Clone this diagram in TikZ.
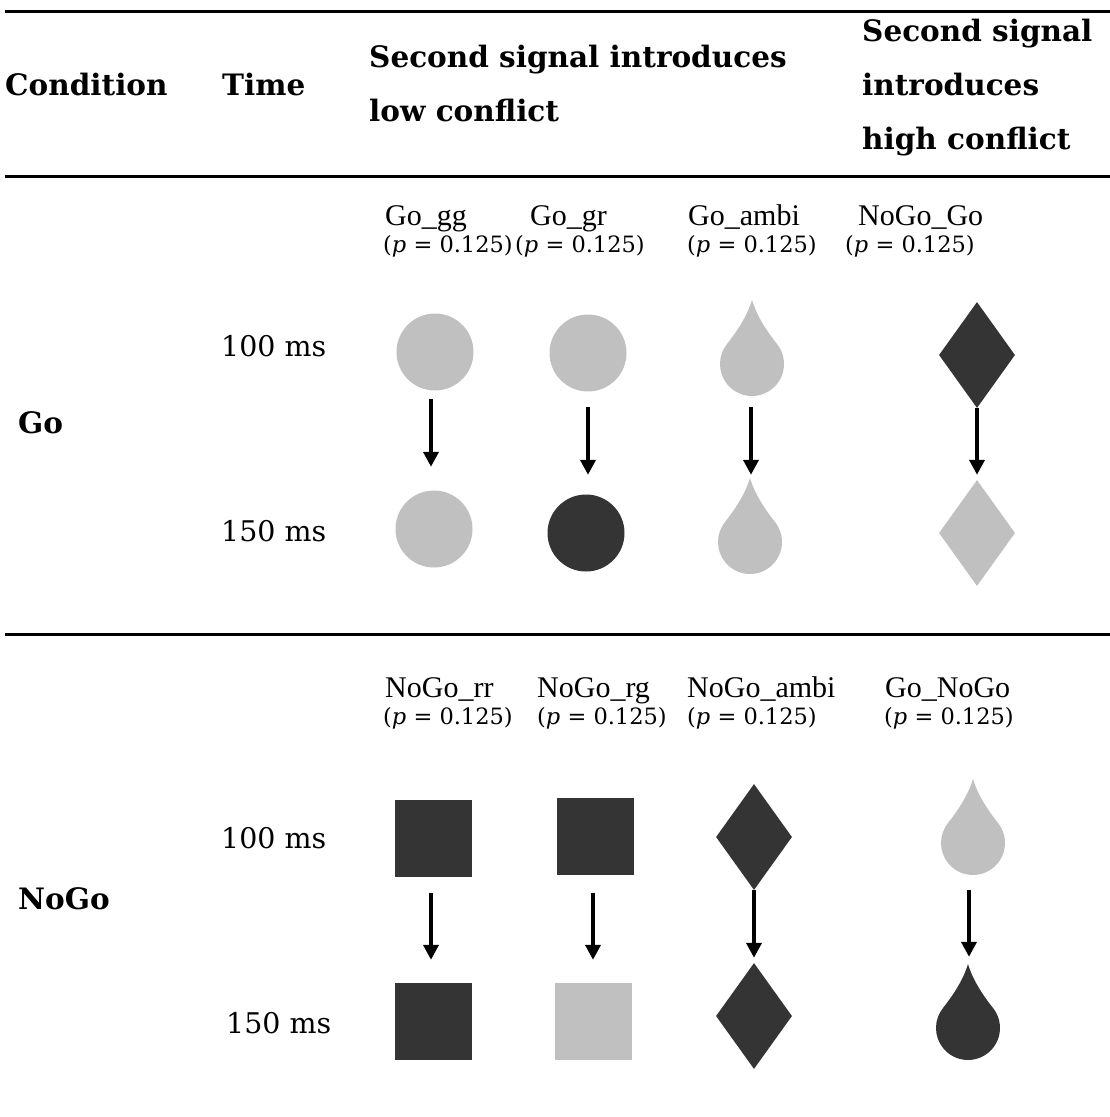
\documentclass[tikz,border=0pt]{standalone}
\usepackage{fontspec}
\setmainfont{DejaVu Serif}
\newfontfamily\timesf{Liberation Serif}
\usetikzlibrary{shapes.geometric,arrows.meta}
\definecolor{lgray}{RGB}{192,192,192}
\definecolor{dgray}{RGB}{52,52,52}
\tikzset{
 hdr/.style={anchor=base west, inner sep=0pt, align=left, font=\fontsize{29.5}{54}\selectfont\bfseries},
 timel/.style={anchor=base west, inner sep=0pt, font=\fontsize{28.5}{34}\selectfont},
 cond/.style={anchor=base west, inner sep=0pt, font=\fontsize{29.5}{34}\selectfont\bfseries},
 lab/.style={anchor=base west, inner sep=0pt, font=\timesf\fontsize{30}{36}\selectfont},
 prob/.style={anchor=base west, inner sep=0pt, font=\fontsize{22.5}{27}\selectfont},
 rule/.style={line width=3pt},
 circ/.style={circle, minimum size=77pt, inner sep=0pt, fill=#1},
 sq/.style={rectangle, minimum size=77pt, inner sep=0pt, fill=#1},
 dia/.style={diamond, minimum width=76pt, minimum height=106pt, inner sep=0pt, fill=#1},
 drop/.style={rectangle, minimum width=70pt, minimum height=100pt, inner sep=0pt,
   path picture={\fill[#1] ([yshift=48pt]path picture bounding box.center)
     .. controls +(4.8pt,-16pt) and +(-10.1pt,13pt) .. ++(24.5pt,-43.4pt)
     arc[start angle=40, end angle=-220, radius=32pt]
     .. controls +(10.1pt,13pt) and +(-4.8pt,-16pt) .. ++(24.5pt,43.4pt) -- cycle;}},
 arr/.style={line width=4.8pt, -{Triangle[width=15pt,length=15pt]}}
}
\begin{document}
\begin{tikzpicture}[x=1pt,y=-1pt]
\useasboundingbox (0,0) rectangle (1110,1117);
% rules
\draw[rule] (5,11) -- (1110,11);
\draw[rule] (5,176) -- (1110,176);
\draw[rule] (5,634) -- (1110,634);
% header
\node[cond] (hcond) at (5,95) {Condition};
\node[cond] (htime) at (222,95) {Time};
\node[hdr] (hlow) at (369,121) {Second signal introduces\\low conflict};
\node[hdr] (hhigh) at (862,149) {Second signal\\introduces\\high conflict};
% left column
\node[cond] (cgo) at (18,433) {Go};
\node[cond] (cnogo) at (18,909) {NoGo};
\node[timel] (t1) at (221,356) {100 ms};
\node[timel] (t2) at (221,541) {150 ms};
\node[timel] (t3) at (221,848) {100 ms};
\node[timel] (t4) at (226,1033) {150 ms};
% labels Go row
\node[lab] (l1) at (385,225) {Go\textunderscore gg};
\node[lab] (l2) at (530,225) {Go\textunderscore gr};
\node[lab] (l3) at (688,225) {Go\textunderscore ambi};
\node[lab] (l4) at (858,225) {NoGo\textunderscore Go};
\node[prob] (p1) at (383,252) {(\textit{p} = 0.125)};
\node[prob] (p2) at (515,252) {(\textit{p} = 0.125)};
\node[prob] (p3) at (687,252) {(\textit{p} = 0.125)};
\node[prob] (p4) at (845,252) {(\textit{p} = 0.125)};
% labels NoGo row
\node[lab] (l5) at (385,697) {NoGo\textunderscore rr};
\node[lab] (l6) at (537,697) {NoGo\textunderscore rg};
\node[lab] (l7) at (687,697) {NoGo\textunderscore ambi};
\node[lab] (l8) at (885,697) {Go\textunderscore NoGo};
\node[prob] (p5) at (383,724) {(\textit{p} = 0.125)};
\node[prob] (p6) at (537,724) {(\textit{p} = 0.125)};
\node[prob] (p7) at (687,724) {(\textit{p} = 0.125)};
\node[prob] (p8) at (884,724) {(\textit{p} = 0.125)};
% Go row shapes
\node[circ=lgray] (g1t) at (435,352) {};
\node[circ=lgray] (g2t) at (588,353) {};
\node[drop=lgray] (g3t) at (752,348) {};
\node[dia=dgray]  (g4t) at (977,355) {};
\node[circ=lgray] (g1b) at (434,529) {};
\node[circ=dgray] (g2b) at (586,533) {};
\node[drop=lgray] (g3b) at (750,526) {};
\node[dia=lgray]  (g4b) at (977,533) {};
% NoGo row shapes
\node[sq=dgray]   (n1t) at (433,838) {};
\node[sq=dgray]   (n2t) at (595,836) {};
\node[dia=dgray]  (n3t) at (754,837) {};
\node[drop=lgray] (n4t) at (973,827) {};
\node[sq=dgray]   (n1b) at (433,1021) {};
\node[sq=lgray]   (n2b) at (593,1021) {};
\node[dia=dgray]  (n3b) at (754,1016) {};
\node[drop=dgray] (n4b) at (968,1012) {};
% arrows
\draw[arr] ([xshift=-4pt,yshift=-8.5pt]g1t.south) -- ([xshift=-3pt,yshift=23.5pt]g1b.north);
\draw[arr] ([yshift=-15.5pt]g2t.south) -- ([xshift=2pt,yshift=19.5pt]g2b.north);
\draw[arr] ([xshift=-1pt,yshift=-9pt]g3t.south) -- ([xshift=1pt,yshift=1pt]g3b.north);
\draw[arr] (g4t.south) -- ([yshift=5pt]g4b.north);
\draw[arr] ([xshift=-2pt,yshift=-16.5pt]n1t.south) -- ([xshift=-2pt,yshift=22.5pt]n1b.north);
\draw[arr] ([xshift=-2pt,yshift=-18.5pt]n2t.south) -- ([yshift=22.5pt]n2b.north);
\draw[arr] (n3t.south) -- ([yshift=5pt]n3b.north);
\draw[arr] ([xshift=-4pt,yshift=-13pt]n4t.south) -- ([xshift=1pt,yshift=5pt]n4b.north);
\end{tikzpicture}
\end{document}
